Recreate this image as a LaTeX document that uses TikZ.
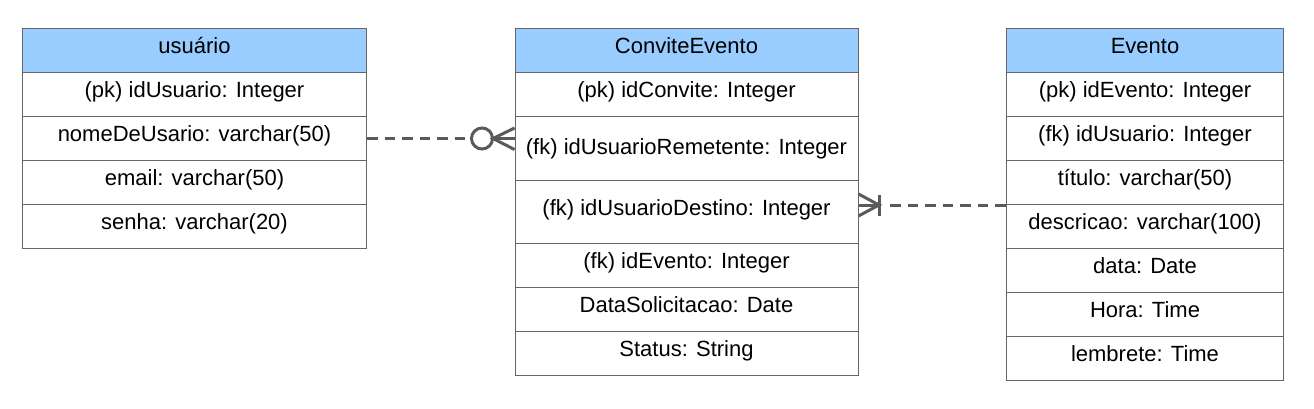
\documentclass[tikz,border=0pt]{standalone}
\usepackage{fontspec}
\setmainfont{Liberation Sans}
\usetikzlibrary{calc}
\definecolor{headblue}{HTML}{99CCFF}
\definecolor{bordergray}{HTML}{666666}
\definecolor{linegray}{HTML}{5A5A5A}
\begin{document}
\begin{tikzpicture}[x=1pt,y=-1pt,
  cell/.style={draw=bordergray, line width=1pt, fill=white, minimum height=44pt,
    inner sep=0pt, text height=12pt, text depth=6pt,
    font=\fontsize{22}{26}\selectfont, anchor=north west},
  headcell/.style={cell, fill=headblue},
  ucell/.style={cell, minimum width=344pt},
  ccell/.style={cell, minimum width=343pt},
  ecell/.style={cell, minimum width=277pt},
  conn/.style={draw=linegray, line width=3pt},
  conndash/.style={conn, dash pattern=on 10.5pt off 7pt}
]
\useasboundingbox (0,0) rectangle (1314,409);

% usuario
\node[ucell, headcell] (u0) at (22,28) {usuário};
\node[ucell] (u1) at (22,72) {(pk) idUsuario: Integer};
\node[ucell] (u2) at (22,116) {nomeDeUsario: varchar(50)};
\node[ucell] (u3) at (22,160) {email: varchar(50)};
\node[ucell] (u4) at (22,204) {senha: varchar(20)};

% ConviteEvento
\node[ccell, headcell] (c0) at (514.5,28) {ConviteEvento};
\node[ccell] (c1) at (514.5,72) {(pk) idConvite: Integer};
\node[ccell, minimum height=64pt, text depth=0pt] (c2) at (514.5,116) {(fk) idUsuarioRemetente: Integer};
\node[ccell, minimum height=63pt] (c3) at (514.5,180) {(fk) idUsuarioDestino: Integer};
\node[ccell] (c4) at (514.5,243) {(fk) idEvento: Integer};
\node[ccell] (c5) at (514.5,287) {DataSolicitacao: Date};
\node[ccell] (c6) at (514.5,331) {Status: String};

% Evento
\node[ecell, headcell] (e0) at (1006,28) {Evento};
\node[ecell] (e1) at (1006,72) {(pk) idEvento: Integer};
\node[ecell] (e2) at (1006,116) {(fk) idUsuario: Integer};
\node[ecell] (e3) at (1006,160) {título: varchar(50)};
\node[ecell] (e4) at (1006,204) {descricao: varchar(100)};
\node[ecell] (e5) at (1006,248) {data: Date};
\node[ecell] (e6) at (1006,292) {Hora: Time};
\node[ecell] (e7) at (1006,336) {lembrete: Time};

% connector usuario -> ConviteEvento (zero or many)
\coordinate (m1) at (u2.east -| c2.west);
\draw[conndash] (u2.east) -- ($(m1)+(-43,0)$);
\draw[conn, fill=white] ($(m1)+(-32.5,0)$) circle[radius=10.5pt];
\draw[conn] ($(m1)+(0,-10.5)$) -- ($(m1)+(-21.5,0)$) -- ($(m1)+(0,11)$);
\draw[conn] ($(m1)+(-21.5,0)$) -- (m1);

% connector ConviteEvento -> Evento (one or many)
\coordinate (m2) at (c3.east |- e3.south west);
\draw[conn] ($(m2)+(0,-11)$) -- ($(m2)+(20.5,0)$) -- ($(m2)+(0,11)$);
\draw[conn] (m2) -- ($(m2)+(20.5,0)$);
\draw[conn] ($(m2)+(20.5,-10.5)$) -- ($(m2)+(20.5,10.5)$);
\draw[conndash] ($(m2)+(31.5,0)$) -- (e3.south west);
\end{tikzpicture}
\end{document}
